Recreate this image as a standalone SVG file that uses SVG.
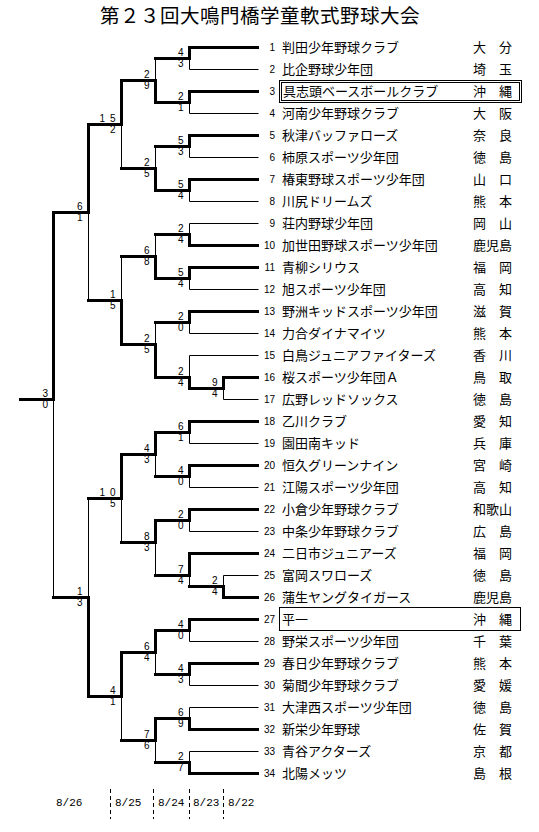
<svg xmlns="http://www.w3.org/2000/svg" width="539" height="832" viewBox="0 0 539 832">
<style>
.tk{fill:none;stroke:#000;stroke-width:3;stroke-linecap:square;stroke-linejoin:miter}
.tn{fill:none;stroke:#000;stroke-width:1}
.nm{font-family:"Noto Sans CJK JP","Noto Sans CJK SC",sans-serif;font-size:13px;fill:#000}
.no{font-family:"Liberation Sans",Arial,sans-serif;font-size:10px;text-anchor:end;fill:#000}
.sc{font-family:"Liberation Sans",Arial,sans-serif;font-size:10px;text-anchor:end;fill:#000}
.dt{font-family:"Liberation Mono",monospace;font-size:11px;fill:#000}
.bx{fill:none;stroke:#000;stroke-width:1}
.dash{fill:none;stroke:#000;stroke-width:1;stroke-dasharray:4 3}
</style>
<rect width="539" height="832" fill="#fff"/>
<g id="title"><text x="100" y="22.8" style="font-family:'Noto Sans CJK JP',sans-serif;font-size:19.5px;letter-spacing:0.5px">第２３回大鳴門橋学童軟式野球大会</text></g>

<g id="connectors" transform="translate(0.5,0.5)">
<path class="tk" d="M155 58H189V47H257"/><path class="tn" d="M189 58V69H258"/>
<path class="tk" d="M155 102H189V91H257"/><path class="tn" d="M189 102V113H258"/>
<path class="tk" d="M121 80H155V102"/><path class="tn" d="M155 80V58"/>
<path class="tk" d="M155 146H189V135H257"/><path class="tn" d="M189 146V157H258"/>
<path class="tk" d="M155 190H189V179H257"/><path class="tn" d="M189 190V201H258"/>
<path class="tk" d="M121 168H155V190"/><path class="tn" d="M155 168V146"/>
<path class="tk" d="M88 124H121V80"/><path class="tn" d="M121 124V168"/>
<path class="tk" d="M155 234H189V245H257"/><path class="tn" d="M189 234V223H258"/>
<path class="tk" d="M155 278H189V267H257"/><path class="tn" d="M189 278V289H258"/>
<path class="tk" d="M121 256H155V278"/><path class="tn" d="M155 256V234"/>
<path class="tk" d="M155 322H189V311H257"/><path class="tn" d="M189 322V333H258"/>
<path class="tk" d="M189 388H223V377H257"/><path class="tn" d="M223 388V399H258"/>
<path class="tk" d="M155 377H189V388"/><path class="tn" d="M189 377V355H258"/>
<path class="tk" d="M121 344H155V377"/><path class="tn" d="M155 344V322"/>
<path class="tk" d="M88 300H121V344"/><path class="tn" d="M121 300V256"/>
<path class="tk" d="M53 212H88V124"/><path class="tn" d="M88 212V300"/>
<path class="tk" d="M20 399H53V212"/><path class="tn" d="M53 399V597"/>
<path class="tk" d="M155 432H189V421H257"/><path class="tn" d="M189 432V443H258"/>
<path class="tk" d="M155 476H189V465H257"/><path class="tn" d="M189 476V487H258"/>
<path class="tk" d="M121 454H155V432"/><path class="tn" d="M155 454V476"/>
<path class="tk" d="M155 520H189V509H257"/><path class="tn" d="M189 520V531H258"/>
<path class="tk" d="M189 586H223V597H257"/><path class="tn" d="M223 586V575H258"/>
<path class="tk" d="M155 575H189V553H257"/><path class="tn" d="M189 575V586"/>
<path class="tk" d="M121 542H155V520"/><path class="tn" d="M155 542V575"/>
<path class="tk" d="M88 498H121V454"/><path class="tn" d="M121 498V542"/>
<path class="tk" d="M155 630H189V619H257"/><path class="tn" d="M189 630V641H258"/>
<path class="tk" d="M155 674H189V663H257"/><path class="tn" d="M189 674V685H258"/>
<path class="tk" d="M121 652H155V630"/><path class="tn" d="M155 652V674"/>
<path class="tk" d="M155 718H189V729H257"/><path class="tn" d="M189 718V707H258"/>
<path class="tk" d="M155 762H189V773H257"/><path class="tn" d="M189 762V751H258"/>
<path class="tk" d="M121 740H155V718"/><path class="tn" d="M155 740V762"/>
<path class="tk" d="M88 696H121V652"/><path class="tn" d="M121 696V740"/>
<path class="tk" d="M53 597H88V696"/><path class="tn" d="M88 597V498"/>
</g>

<g id="scores">
<text class="sc" x="183.5" y="55.8">4</text><text class="sc" x="183.5" y="67.2">3</text>
<text class="sc" x="183.5" y="99.8">2</text><text class="sc" x="183.5" y="111.2">1</text>
<text class="sc" x="149.5" y="77.8">2</text><text class="sc" x="149.5" y="89.2">9</text>
<text class="sc" x="183.5" y="143.8">5</text><text class="sc" x="183.5" y="155.2">3</text>
<text class="sc" x="183.5" y="187.8">5</text><text class="sc" x="183.5" y="199.2">4</text>
<text class="sc" x="149.5" y="165.8">2</text><text class="sc" x="149.5" y="177.2">5</text>
<text class="sc" x="105" y="121.8">1</text><text class="sc" x="115.5" y="121.8">5</text><text class="sc" x="115.5" y="133.2">2</text>
<text class="sc" x="183.5" y="231.8">2</text><text class="sc" x="183.5" y="243.2">4</text>
<text class="sc" x="183.5" y="275.8">5</text><text class="sc" x="183.5" y="287.2">4</text>
<text class="sc" x="149.5" y="253.8">6</text><text class="sc" x="149.5" y="265.2">8</text>
<text class="sc" x="183.5" y="319.8">2</text><text class="sc" x="183.5" y="331.2">0</text>
<text class="sc" x="217.5" y="385.8">9</text><text class="sc" x="217.5" y="397.2">4</text>
<text class="sc" x="183.5" y="374.8">2</text><text class="sc" x="183.5" y="386.2">4</text>
<text class="sc" x="149.5" y="341.8">2</text><text class="sc" x="149.5" y="353.2">5</text>
<text class="sc" x="115.5" y="297.8">1</text><text class="sc" x="115.5" y="309.2">5</text>
<text class="sc" x="82.5" y="209.8">6</text><text class="sc" x="82.5" y="221.2">1</text>
<text class="sc" x="48" y="396.8">3</text><text class="sc" x="48" y="408.2">0</text>
<text class="sc" x="183.5" y="429.8">6</text><text class="sc" x="183.5" y="441.2">1</text>
<text class="sc" x="183.5" y="473.8">4</text><text class="sc" x="183.5" y="485.2">0</text>
<text class="sc" x="149.5" y="451.8">4</text><text class="sc" x="149.5" y="463.2">3</text>
<text class="sc" x="183.5" y="517.8">2</text><text class="sc" x="183.5" y="529.2">0</text>
<text class="sc" x="217.5" y="583.8">2</text><text class="sc" x="217.5" y="595.2">4</text>
<text class="sc" x="183.5" y="572.8">7</text><text class="sc" x="183.5" y="584.2">4</text>
<text class="sc" x="149.5" y="539.8">8</text><text class="sc" x="149.5" y="551.2">3</text>
<text class="sc" x="105" y="495.8">1</text><text class="sc" x="115.5" y="495.8">0</text><text class="sc" x="115.5" y="507.2">5</text>
<text class="sc" x="183.5" y="627.8">4</text><text class="sc" x="183.5" y="639.2">0</text>
<text class="sc" x="183.5" y="671.8">4</text><text class="sc" x="183.5" y="683.2">3</text>
<text class="sc" x="149.5" y="649.8">6</text><text class="sc" x="149.5" y="661.2">4</text>
<text class="sc" x="183.5" y="715.8">6</text><text class="sc" x="183.5" y="727.2">9</text>
<text class="sc" x="183.5" y="759.8">2</text><text class="sc" x="183.5" y="771.2">7</text>
<text class="sc" x="149.5" y="737.8">7</text><text class="sc" x="149.5" y="749.2">6</text>
<text class="sc" x="115.5" y="693.8">4</text><text class="sc" x="115.5" y="705.2">1</text>
<text class="sc" x="82.5" y="594.8">1</text><text class="sc" x="82.5" y="606.2">3</text>
</g>

<g id="team-1"><text class="no" x="275" y="50.5">1</text><text class="nm" x="282" y="52">判田少年野球クラブ</text><text class="nm" x="473" y="52">大　分</text></g>
<g id="team-2"><text class="no" x="275" y="72.5">2</text><text class="nm" x="282" y="74">比企野球少年団</text><text class="nm" x="473" y="74">埼　玉</text></g>
<g id="team-3"><rect class="bx" x="279.5" y="80.5" width="242" height="22"/><rect class="bx" x="281.5" y="82.5" width="238" height="18"/><text class="no" x="275" y="94.5">3</text><text class="nm" x="283" y="96">具志頭ベースボールクラブ</text><text class="nm" x="473" y="96">沖　縄</text></g>
<g id="team-4"><text class="no" x="275" y="116.5">4</text><text class="nm" x="282" y="118">河南少年野球クラブ</text><text class="nm" x="473" y="118">大　阪</text></g>
<g id="team-5"><text class="no" x="275" y="138.5">5</text><text class="nm" x="282" y="140">秋津バッファローズ</text><text class="nm" x="473" y="140">奈　良</text></g>
<g id="team-6"><text class="no" x="275" y="160.5">6</text><text class="nm" x="282" y="162">柿原スポーツ少年団</text><text class="nm" x="473" y="162">徳　島</text></g>
<g id="team-7"><text class="no" x="275" y="182.5">7</text><text class="nm" x="282" y="184">椿東野球スポーツ少年団</text><text class="nm" x="473" y="184">山　口</text></g>
<g id="team-8"><text class="no" x="275" y="204.5">8</text><text class="nm" x="282" y="206">川尻ドリームズ</text><text class="nm" x="473" y="206">熊　本</text></g>
<g id="team-9"><text class="no" x="275" y="226.5">9</text><text class="nm" x="282" y="228">荘内野球少年団</text><text class="nm" x="473" y="228">岡　山</text></g>
<g id="team-10"><text class="no" x="275" y="248.5">10</text><text class="nm" x="282" y="250">加世田野球スポーツ少年団</text><text class="nm" x="473" y="250">鹿児島</text></g>
<g id="team-11"><text class="no" x="275" y="270.5">11</text><text class="nm" x="282" y="272">青柳シリウス</text><text class="nm" x="473" y="272">福　岡</text></g>
<g id="team-12"><text class="no" x="275" y="292.5">12</text><text class="nm" x="282" y="294">旭スポーツ少年団</text><text class="nm" x="473" y="294">高　知</text></g>
<g id="team-13"><text class="no" x="275" y="314.5">13</text><text class="nm" x="282" y="316">野洲キッドスポーツ少年団</text><text class="nm" x="473" y="316">滋　賀</text></g>
<g id="team-14"><text class="no" x="275" y="336.5">14</text><text class="nm" x="282" y="338">力合ダイナマイツ</text><text class="nm" x="473" y="338">熊　本</text></g>
<g id="team-15"><text class="no" x="275" y="358.5">15</text><text class="nm" x="282" y="360">白鳥ジュニアファイターズ</text><text class="nm" x="473" y="360">香　川</text></g>
<g id="team-16"><text class="no" x="275" y="380.5">16</text><text class="nm" x="282" y="382">桜スポーツ少年団Ａ</text><text class="nm" x="473" y="382">鳥　取</text></g>
<g id="team-17"><text class="no" x="275" y="402.5">17</text><text class="nm" x="282" y="404">広野レッドソックス</text><text class="nm" x="473" y="404">徳　島</text></g>
<g id="team-18"><text class="no" x="275" y="424.5">18</text><text class="nm" x="282" y="426">乙川クラブ</text><text class="nm" x="473" y="426">愛　知</text></g>
<g id="team-19"><text class="no" x="275" y="446.5">19</text><text class="nm" x="282" y="448">園田南キッド</text><text class="nm" x="473" y="448">兵　庫</text></g>
<g id="team-20"><text class="no" x="275" y="468.5">20</text><text class="nm" x="282" y="470">恒久グリーンナイン</text><text class="nm" x="473" y="470">宮　崎</text></g>
<g id="team-21"><text class="no" x="275" y="490.5">21</text><text class="nm" x="282" y="492">江陽スポーツ少年団</text><text class="nm" x="473" y="492">高　知</text></g>
<g id="team-22"><text class="no" x="275" y="512.5">22</text><text class="nm" x="282" y="514">小倉少年野球クラブ</text><text class="nm" x="473" y="514">和歌山</text></g>
<g id="team-23"><text class="no" x="275" y="534.5">23</text><text class="nm" x="282" y="536">中条少年野球クラブ</text><text class="nm" x="473" y="536">広　島</text></g>
<g id="team-24"><text class="no" x="275" y="556.5">24</text><text class="nm" x="282" y="558">二日市ジュニアーズ</text><text class="nm" x="473" y="558">福　岡</text></g>
<g id="team-25"><text class="no" x="275" y="578.5">25</text><text class="nm" x="282" y="580">富岡スワローズ</text><text class="nm" x="473" y="580">徳　島</text></g>
<g id="team-26"><text class="no" x="275" y="600.5">26</text><text class="nm" x="282" y="602">蒲生ヤングタイガース</text><text class="nm" x="473" y="602">鹿児島</text></g>
<g id="team-27"><rect class="bx" x="279.5" y="607.5" width="241" height="23"/><text class="no" x="275" y="622.5">27</text><text class="nm" x="282" y="624">平一</text><text class="nm" x="473" y="624">沖　縄</text></g>
<g id="team-28"><text class="no" x="275" y="644.5">28</text><text class="nm" x="282" y="646">野栄スポーツ少年団</text><text class="nm" x="473" y="646">千　葉</text></g>
<g id="team-29"><text class="no" x="275" y="666.5">29</text><text class="nm" x="282" y="668">春日少年野球クラブ</text><text class="nm" x="473" y="668">熊　本</text></g>
<g id="team-30"><text class="no" x="275" y="688.5">30</text><text class="nm" x="282" y="690">菊間少年野球クラブ</text><text class="nm" x="473" y="690">愛　媛</text></g>
<g id="team-31"><text class="no" x="275" y="710.5">31</text><text class="nm" x="282" y="712">大津西スポーツ少年団</text><text class="nm" x="473" y="712">徳　島</text></g>
<g id="team-32"><text class="no" x="275" y="732.5">32</text><text class="nm" x="282" y="734">新栄少年野球</text><text class="nm" x="473" y="734">佐　賀</text></g>
<g id="team-33"><text class="no" x="275" y="754.5">33</text><text class="nm" x="282" y="756">青谷アクターズ</text><text class="nm" x="473" y="756">京　都</text></g>
<g id="team-34"><text class="no" x="275" y="776.5">34</text><text class="nm" x="282" y="778">北陽メッツ</text><text class="nm" x="473" y="778">島　根</text></g>

<g id="dates">
<path class="dash" d="M110.5 789V819M153.5 789V819M189.5 789V819M223.5 789V819"/>
<text class="dt" x="56" y="806">8/26</text>
<text class="dt" x="115" y="806">8/25</text>
<text class="dt" x="158" y="806">8/24</text>
<text class="dt" x="193" y="806">8/23</text>
<text class="dt" x="228" y="806">8/22</text>
</g>
</svg>
